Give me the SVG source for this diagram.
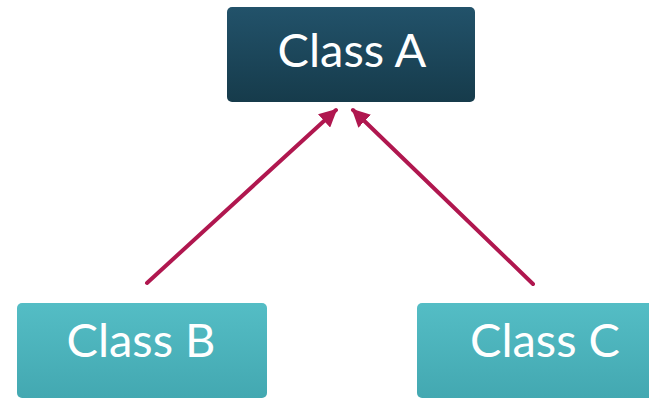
<svg xmlns="http://www.w3.org/2000/svg" width="649" height="401" viewBox="0 0 649 401">
<defs>
<style>
.lbl{font-family:Lato,"Open Sans",sans-serif;font-size:47px;fill:#ffffff;text-anchor:middle}
.conn{stroke:#b0174f;stroke-width:4;fill:none;stroke-linecap:round}
</style>
<linearGradient id="gA" x1="0" y1="0" x2="0" y2="1">
<stop offset="0" stop-color="#22526a"/>
<stop offset="1" stop-color="#163b4b"/>
</linearGradient>
<linearGradient id="gB" x1="0" y1="0" x2="0" y2="1">
<stop offset="0" stop-color="#54bdc5"/>
<stop offset="1" stop-color="#43a8b1"/>
</linearGradient>
<marker id="ah" viewBox="0 0 10 10" refX="9" refY="5" markerWidth="4.5" markerHeight="4.5" orient="auto" markerUnits="strokeWidth">
<path d="M0,0 L10,5 L0,10 Z" fill="#b0174f"/>
</marker>
</defs>
<rect width="649" height="401" fill="#ffffff"/>
<g id="connectors">
<line class="conn" x1="147" y1="283" x2="336" y2="110" marker-end="url(#ah)"/>
<line class="conn" x1="533" y1="284" x2="353" y2="110" marker-end="url(#ah)"/>
</g>
<g id="classA">
<rect x="227" y="7" width="248" height="95" rx="5" fill="url(#gA)"/>
<text class="lbl" x="352" y="67">Class A</text>
</g>
<g id="classB">
<rect x="17" y="303" width="250" height="95" rx="5" fill="url(#gB)"/>
<text class="lbl" x="141" y="357">Class B</text>
</g>
<g id="classC">
<rect x="417" y="303" width="250" height="95" rx="5" fill="url(#gB)"/>
<text class="lbl" x="545" y="357">Class C</text>
</g>
</svg>
